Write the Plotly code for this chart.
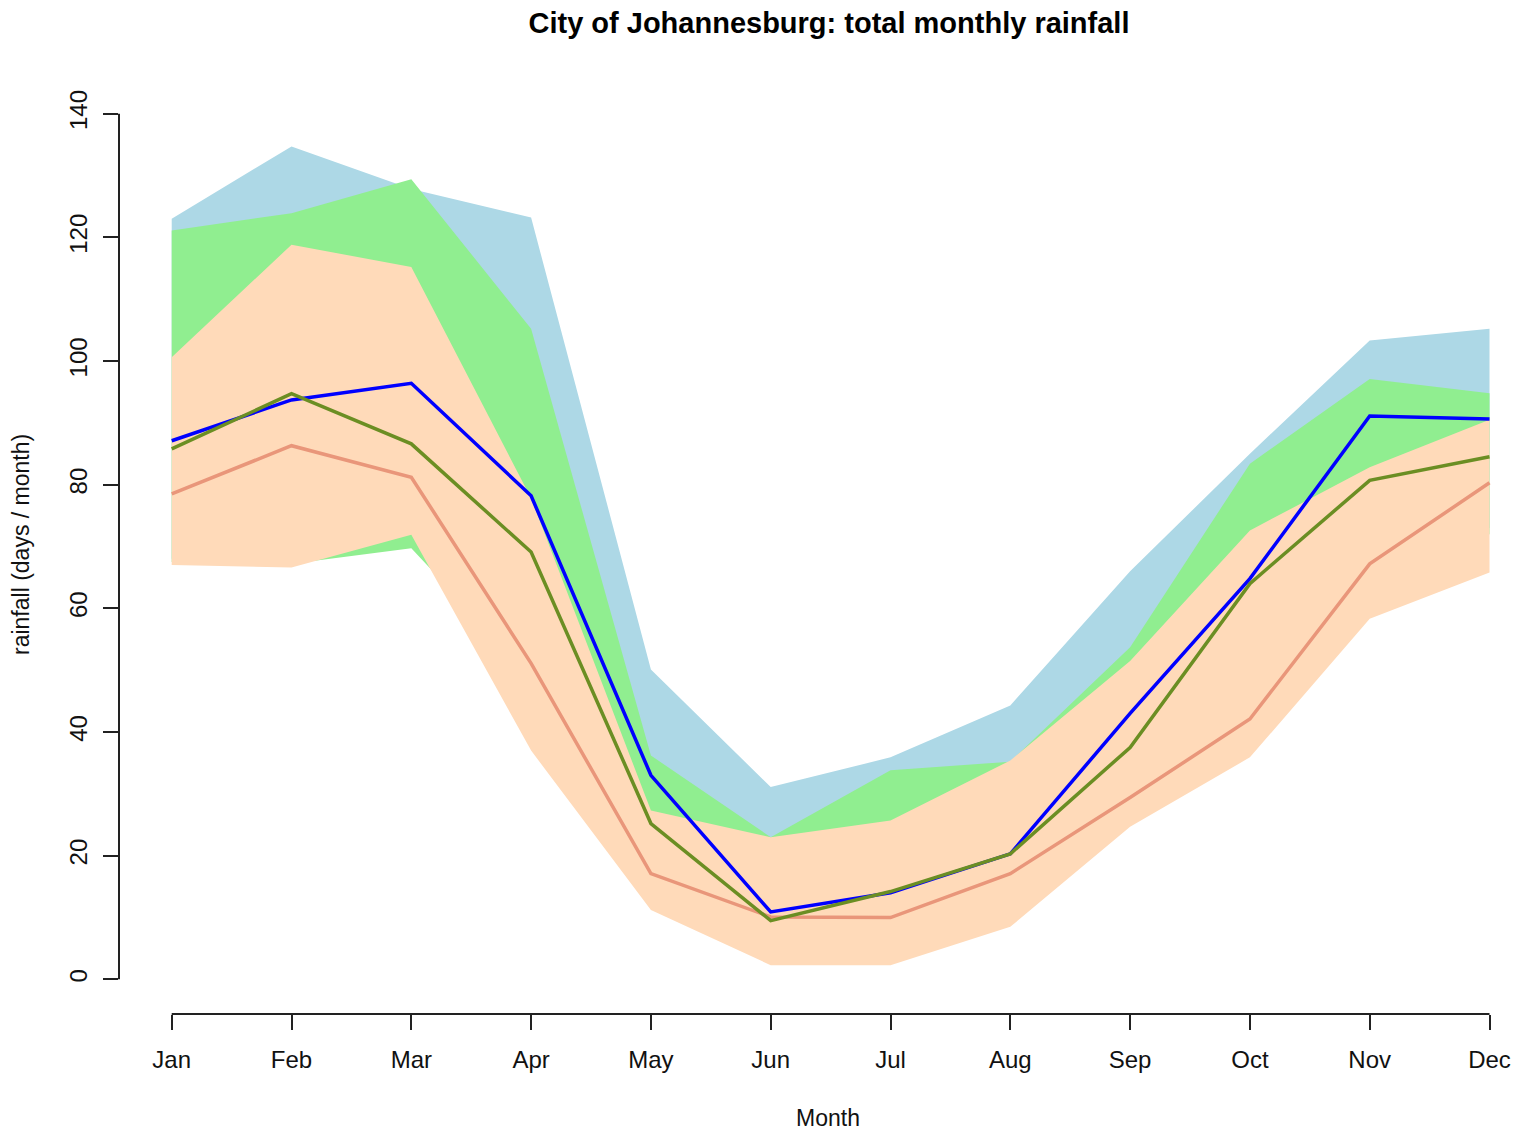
import plotly.graph_objects as go

months = ["Jan", "Feb", "Mar", "Apr", "May", "Jun", "Jul", "Aug", "Sep", "Oct", "Nov", "Dec"]
month_num = list(range(1, 13))

# Shaded ranges (upper / lower envelopes)
blue_hi = [123.0, 134.7, 127.8, 123.2, 50.1, 31.1, 35.9, 44.3, 66.0, 85.0, 103.3, 105.2]
blue_lo = [68.0, 68.0, 72.5, 50.0, 16.0, 6.0, 6.0, 13.0, 31.0, 46.0, 66.0, 73.0]
green_hi = [121.1, 123.9, 129.4, 105.2, 36.2, 23.0, 33.8, 35.2, 53.7, 83.4, 97.1, 94.8]
green_lo = [67.5, 67.2, 69.7, 49.0, 15.0, 5.0, 5.0, 12.0, 30.0, 45.0, 65.0, 72.0]
peach_hi = [100.6, 118.8, 115.2, 77.8, 27.3, 23.0, 25.7, 35.4, 51.5, 72.6, 82.8, 90.5]
peach_lo = [67.0, 66.6, 71.9, 37.0, 11.2, 2.3, 2.3, 8.5, 24.7, 35.9, 58.3, 65.8]

# Lines
blue_line = [87.1, 93.7, 96.4, 78.2, 33.0, 10.9, 14.0, 20.3, 43.0, 64.8, 91.1, 90.6]
olive_line = [85.8, 94.7, 86.6, 69.1, 25.2, 9.5, 14.2, 20.3, 37.5, 64.0, 80.7, 84.5]
salmon_line = [78.5, 86.3, 81.2, 51.1, 17.1, 10.1, 10.0, 17.1, 29.4, 42.1, 67.2, 80.3]

y_ticks = [0, 20, 40, 60, 80, 100, 120, 140]

FONT = "Liberation Sans, Arial, sans-serif"

W, H = 1515, 1130
ML, MT, MB = 119, 79, 116
PW, PH = W - ML, H - MT - MB

fig = go.Figure()


def band(hi, lo, color):
    fig.add_trace(go.Scatter(
        x=month_num + month_num[::-1],
        y=hi + lo[::-1],
        fill="toself", fillcolor=color,
        line=dict(width=0, color=color),
        mode="lines", hoverinfo="skip", showlegend=False,
    ))


band(blue_hi, blue_lo, "#ADD8E6")
band(green_hi, green_lo, "#90EE90")
band(peach_hi, peach_lo, "#FFDAB9")

for ys, col in [(salmon_line, "#E9967A"), (blue_line, "#0000FF"), (olive_line, "#6B8E23")]:
    fig.add_trace(go.Scatter(x=month_num, y=ys, mode="lines",
                             line=dict(color=col, width=3.5),
                             showlegend=False))

# R-style axis lines (only spanning first..last tick)
fig.add_shape(type="line", xref="x", yref="paper", x0=1, x1=12, y0=0, y1=0,
              line=dict(color="#222222", width=2))
fig.add_shape(type="line", xref="paper", yref="y", x0=0, x1=0, y0=0, y1=140,
              line=dict(color="#222222", width=2))

fig.update_layout(
    width=W, height=H,
    margin=dict(l=ML, r=0, t=MT, b=MB),
    paper_bgcolor="white", plot_bgcolor="white",
    font=dict(family=FONT, size=24, color="#000000"),
    title=dict(text="<b>City of Johannesburg: total monthly rainfall</b>",
               xref="container", x=829 / W, xanchor="center",
               yref="container", y=1 - 23 / H, yanchor="middle",
               font=dict(family=FONT, size=29, color="#000000")),
    xaxis=dict(range=[0.56, 0.56 + PW / 119.8], tickvals=month_num, ticktext=months,
               ticks="outside", ticklen=15, tickwidth=1.5, tickcolor="#222222",
               showgrid=False, zeroline=False, showline=False,
               ticklabelstandoff=9, tickfont=dict(size=24, color="#111111")),
    yaxis=dict(range=[-5.6, 145.6], tickvals=y_ticks,
               ticks="outside", ticklen=15, tickwidth=1.5, tickcolor="#222222",
               showgrid=False, zeroline=False, showline=False,
               tickangle=-90, ticklabelstandoff=6,
               tickfont=dict(size=24, color="#111111")),
    annotations=[
        dict(text="Month", xref="paper", yref="paper",
             x=(828 - 119) / PW, y=-(1118 - 1014) / PH,
             xanchor="center", yanchor="middle", showarrow=False,
             font=dict(size=23, color="#111111")),
        dict(text="rainfall (days / month)", xref="paper", yref="paper",
             x=(21 - 119) / PW, y=(1014 - 545) / PH, textangle=-90,
             xanchor="center", yanchor="middle", showarrow=False,
             font=dict(size=23, color="#111111")),
    ],
)

fig.write_html(
    "out.html",
    config={"displayModeBar": False},
    post_script="document.body.style.margin='0';document.body.style.overflow='hidden';",
)
